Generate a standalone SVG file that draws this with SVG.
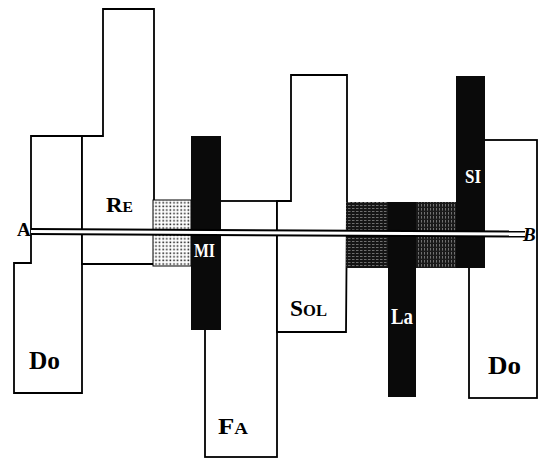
<svg xmlns="http://www.w3.org/2000/svg" width="554" height="473" viewBox="0 0 554 473">
<style>
.box{fill:#fff;stroke:#000;stroke-width:1.8;stroke-linejoin:miter}
.bar{fill:#0a0a0a}
.lbl{font-family:"Liberation Serif","DejaVu Serif",serif;font-weight:bold;fill:#000}
.sc{font-variant:small-caps}
.wl{fill:#fff}
.pt{font-family:"Liberation Serif","DejaVu Serif",serif;font-weight:bold;font-size:19px;fill:#000}
.rule{stroke:#000;stroke-width:2}
</style>
<defs>
<pattern id="dots" width="3.6" height="3.6" patternUnits="userSpaceOnUse">
<rect width="3.6" height="3.6" fill="#fff"/>
<rect x="0.4" y="0.4" width="1.6" height="1.6" fill="#222"/>
</pattern>
<pattern id="hhatch" width="4" height="3" patternUnits="userSpaceOnUse">
<rect width="4" height="3" fill="#151515"/>
<rect x="0" y="1" width="2.5" height="0.6" fill="#aaa"/>
</pattern>
<pattern id="vhatch" width="3" height="4" patternUnits="userSpaceOnUse">
<rect width="3" height="4" fill="#1a1a1a"/>
<rect x="1" y="0" width="0.6" height="2.6" fill="#aaa"/>
</pattern>
</defs>
<rect width="554" height="473" fill="#fff"/>

<g id="do-low">
<polygon class="box" points="31,136 82,136 82,393 14,393 14,263 31,263"/>
<text class="lbl" x="29" y="369" font-size="25" textLength="31" lengthAdjust="spacingAndGlyphs">Do</text>
</g>

<g id="re">
<polygon class="box" points="82,136 103,136 103,9 154,9 154,264 82,264"/>
<text class="lbl sc" x="106" y="212" font-size="22" textLength="27" lengthAdjust="spacingAndGlyphs">Re</text>
</g>

<g id="fa">
<rect class="box" x="205" y="201" width="72" height="256"/>
<text class="lbl sc" x="218" y="434" font-size="24" textLength="30" lengthAdjust="spacingAndGlyphs">Fa</text>
</g>

<g id="sol">
<polygon class="box" points="291,75 347,75 347,202 346,332 277,332 277,201 291,201"/>
<text class="lbl sc" x="290" y="316" font-size="24" textLength="37" lengthAdjust="spacingAndGlyphs">Sol</text>
</g>

<g id="do-high">
<rect class="box" x="469" y="140" width="68" height="258"/>
<text class="lbl" x="488" y="374" font-size="25" textLength="33" lengthAdjust="spacingAndGlyphs">Do</text>
</g>

<g id="mi">
<rect x="153" y="200" width="38" height="66" fill="url(#dots)" stroke="#000" stroke-width="1"/>
<rect class="bar" x="191" y="136" width="30" height="194"/>
<text class="lbl wl" x="194" y="257" font-size="19" textLength="21" lengthAdjust="spacingAndGlyphs">MI</text>
</g>

<g id="la">
<rect x="346" y="202" width="42" height="66" fill="url(#hhatch)"/>
<rect x="416" y="202" width="40" height="66" fill="url(#vhatch)"/>
<rect class="bar" x="388" y="202" width="28" height="195"/>
<text class="lbl wl" x="391" y="324" font-size="24" textLength="22" lengthAdjust="spacingAndGlyphs">La</text>
</g>

<g id="si">
<rect class="bar" x="456" y="76" width="29" height="192"/>
<text class="lbl wl" x="465" y="183" font-size="19" textLength="16" lengthAdjust="spacingAndGlyphs">SI</text>
</g>

<g id="connectors">
<polygon points="31,229 525,231.5 525,236.5 31,234" fill="#fff"/>
<line class="rule" x1="31" y1="229" x2="525" y2="231.5"/>
<line class="rule" x1="31" y1="234" x2="525" y2="236.5"/>
</g>

<g id="point-a">
<text class="pt" x="17" y="236">A</text>
</g>
<g id="point-b">
<text class="pt" x="523" y="241" font-style="italic">B</text>
</g>
</svg>
